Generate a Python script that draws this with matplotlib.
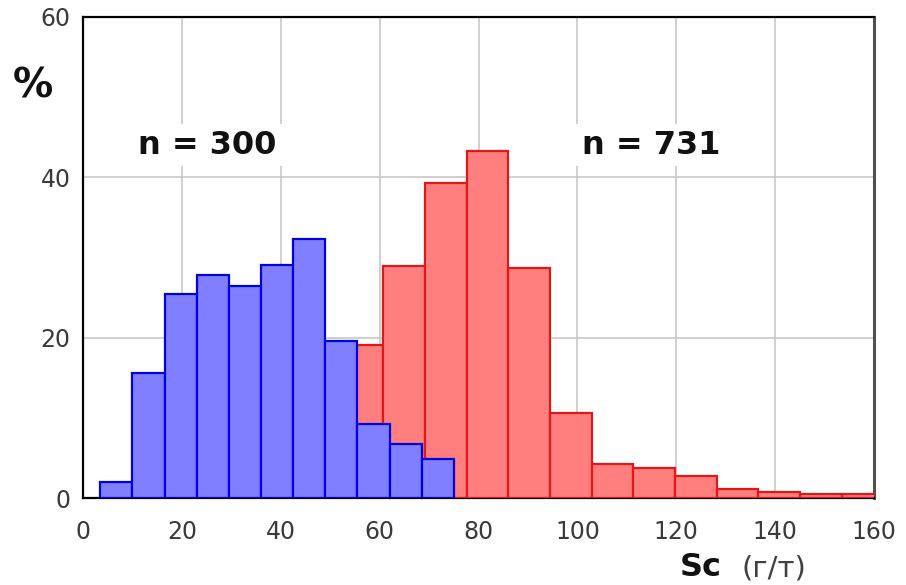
import numpy as np
import matplotlib
matplotlib.use("Agg")
import matplotlib.pyplot as plt

# Histogram data (percent per bin)
blue_edges = [3.5, 10.0, 16.5, 23.0, 29.5, 36.0, 42.5, 49.0, 55.5, 62.0, 68.5, 75.0]
blue_values = [2.0, 15.6, 25.5, 27.8, 26.4, 29.1, 32.3, 19.6, 9.2, 6.7, 4.9]

red_edges = [52.3, 60.7, 69.2, 77.6, 86.0, 94.5, 102.9, 111.3, 119.8, 128.2,
             136.6, 145.1, 153.5, 161.9]
red_values = [19.1, 28.9, 39.3, 43.3, 28.7, 10.6, 4.2, 3.7, 2.7, 1.16, 0.75, 0.46, 0.44]

blue_label = "n = 300"
red_label = "n = 731"
xticks = [0, 20, 40, 60, 80, 100, 120, 140, 160]
yticks = [0, 20, 40, 60]

fig = plt.figure(figsize=(9.06, 5.85), dpi=100)
ax = fig.add_axes([83/906, 1-498/585, (874-83)/906, (498-17)/585])

be = np.array(blue_edges)
re_ = np.array(red_edges)
ax.bar(re_[:-1], red_values, width=np.diff(re_), align='edge',
       color='#ff7f7f', edgecolor='#e01818', linewidth=1.6, zorder=3)
ax.bar(be[:-1], blue_values, width=np.diff(be), align='edge',
       color='#7f7fff', edgecolor='#0000e0', linewidth=1.6, zorder=4)

ax.set_xlim(0, 160)
ax.set_ylim(0, 60)
ax.set_xticks(xticks)
ax.set_yticks(yticks)
ax.set_xticklabels([str(v) for v in xticks])
ax.set_yticklabels([str(v) for v in yticks])
ax.tick_params(axis='both', length=0, labelsize=17, labelcolor='#3a3a3a')
ax.tick_params(axis='x', pad=16)
ax.tick_params(axis='y', pad=9)

ax.grid(True, color='#c8c8c8', linewidth=1.2, zorder=0)
ax.set_axisbelow(True)

for side in ['left', 'top', 'bottom']:
    ax.spines[side].set_color('black')
    ax.spines[side].set_linewidth(1.6)
ax.spines['right'].set_color('#505050')
ax.spines['right'].set_linewidth(2.2)

bbox = dict(facecolor='white', edgecolor='none', pad=4)
ax.text(25.1, 44.0, blue_label, ha='center', va='center', fontsize=23,
        fontweight='bold', family='DejaVu Sans', color='#111111', bbox=bbox, zorder=5)
ax.text(114.9, 44.0, red_label, ha='center', va='center', fontsize=23,
        fontweight='bold', family='DejaVu Sans', color='#111111', bbox=bbox, zorder=5)

fig.text(33/906, 1-87/585, "%", ha='center', va='center', fontsize=29,
         fontweight='bold', color='#111111')
fig.text(680/906, 1-576/585, "Sc", ha='left', va='baseline', fontsize=23,
         fontweight='bold', color='#111111')
fig.text(742/906, 1-576/585, "(г/т)", ha='left', va='baseline', fontsize=21,
         color='#404040')

fig.savefig("out.png", dpi=100)
